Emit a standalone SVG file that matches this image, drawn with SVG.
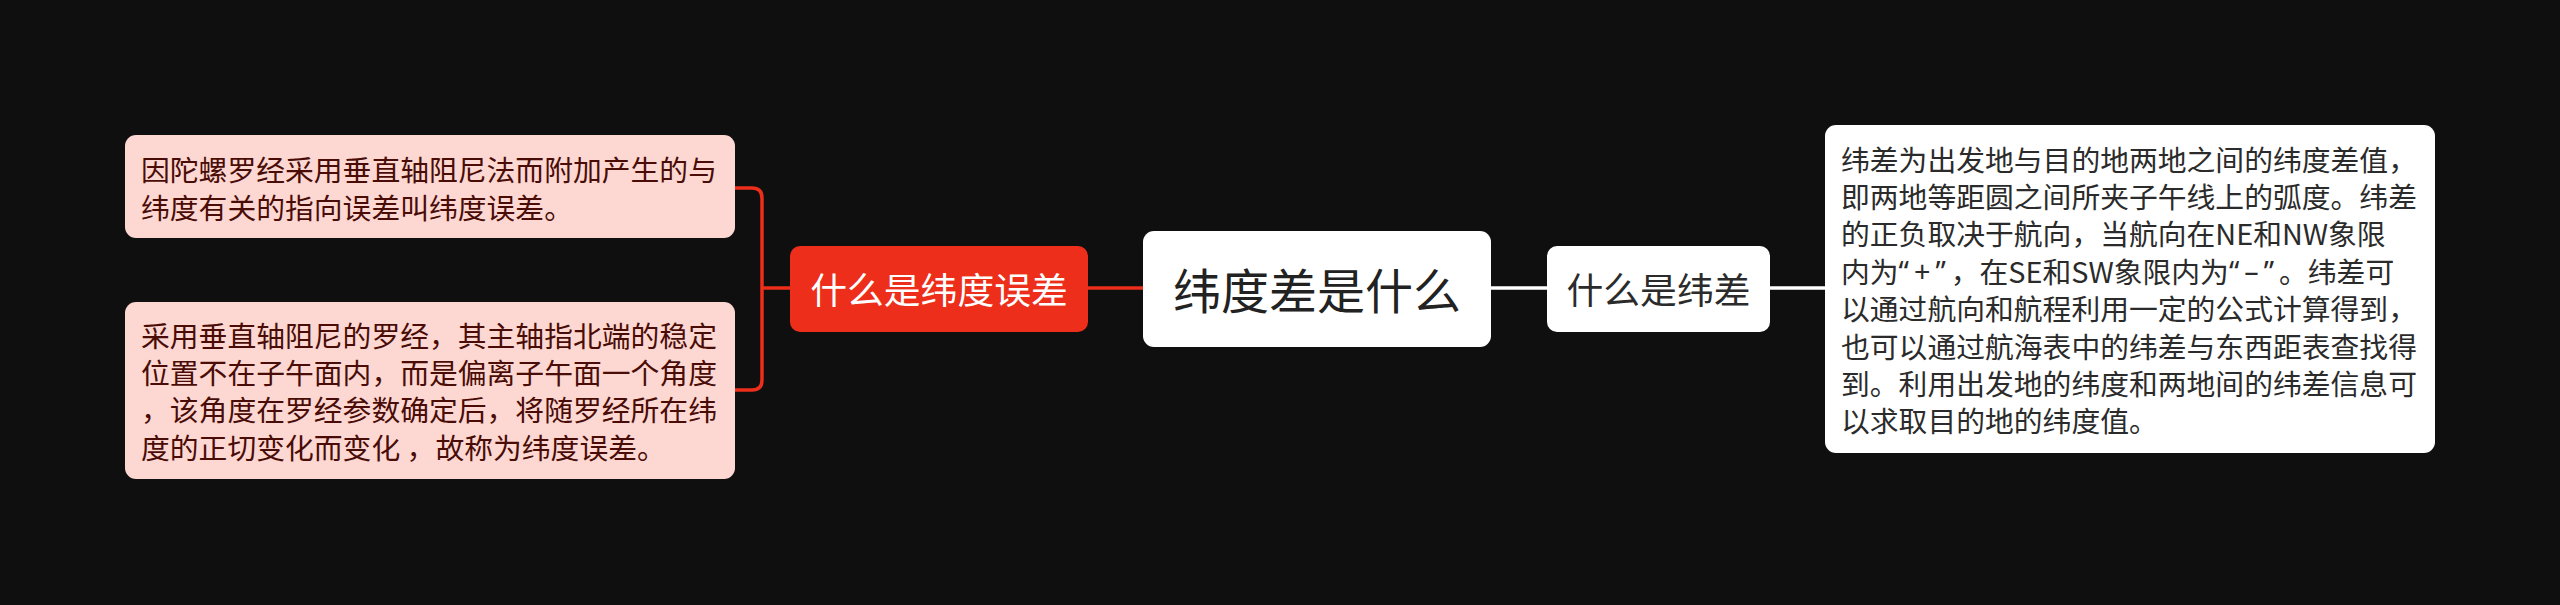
<svg xmlns="http://www.w3.org/2000/svg" width="2560" height="605" viewBox="0 0 2560 605">
<style>
.t{font-family:"Noto Sans CJK SC","Noto Sans",sans-serif;dominant-baseline:central}
.q{font-family:"Noto Sans",sans-serif;letter-spacing:5px}
.leaf{fill:#fdd8d3}
.leaft{font-size:28.8px;fill:#4a0c06}
.rt{font-size:28.8px;fill:#2b2b2b}
.redc{fill:none;stroke:#ec2e1b;stroke-width:3.5}
.whc{fill:none;stroke:#ffffff;stroke-width:3.5}
</style>
<rect width="2560" height="605" fill="#0f0f0f"/>
<g id="connectors">
<path class="redc" d="M735,188 H752 Q762,188 762,198 V380 Q762,390 752,390 H735 M762,288 H790"/>
<path class="redc" d="M1088,288 H1143"/>
<path class="whc" d="M1491,288 H1547"/>
<path class="whc" d="M1770,288 H1825"/>
</g>
<g id="root">
<rect x="1143" y="231" width="348" height="116" rx="11" fill="#ffffff"/>
<text class="t" x="1317" y="288" font-size="48" fill="#222222" text-anchor="middle">纬度差是什么</text>
</g>
<g id="n-latdiff-error">
<rect x="790" y="246" width="298" height="86" rx="10" fill="#ec2e1b"/>
<text class="t" x="939" y="288" font-size="36.8" fill="#ffffff" text-anchor="middle">什么是纬度误差</text>
</g>
<g id="n-latdiff">
<rect x="1547" y="246" width="223" height="86" rx="10" fill="#ffffff"/>
<text class="t" x="1658.5" y="288" font-size="36.8" fill="#2b2b2b" text-anchor="middle">什么是纬差</text>
</g>
<g id="leaf-1">
<rect class="leaf" x="125" y="135" width="610" height="103" rx="11"/>
<text class="t leaft" x="141" y="168.5">因陀螺罗经采用垂直轴阻尼法而附加产生的与</text>
<text class="t leaft" x="141" y="206">纬度有关的指向误差叫纬度误差。</text>
</g>
<g id="leaf-2">
<rect class="leaf" x="125" y="302" width="610" height="177" rx="11"/>
<text class="t leaft" x="141" y="334">采用垂直轴阻尼的罗经，其主轴指北端的稳定</text>
<text class="t leaft" x="141" y="371.4">位置不在子午面内，而是偏离子午面一个角度</text>
<text class="t leaft" x="141" y="408.8">，该角度在罗经参数确定后，将随罗经所在纬</text>
<text class="t leaft" x="141" y="446.2">度的正切变化而变化 ，故称为纬度误差。</text>
</g>
<g id="leaf-3">
<rect x="1825" y="125" width="610" height="328" rx="11" fill="#ffffff"/>
<text class="t rt" x="1841" y="158">纬差为出发地与目的地两地之间的纬度差值，</text>
<text class="t rt" x="1841" y="195.4">即两地等距圆之间所夹子午线上的弧度。纬差</text>
<text class="t rt" x="1841" y="232.8">的正负取决于航向，当航向在NE和NW象限</text>
<text class="t rt" x="1841" y="270.2">内为<tspan class="q">“+”</tspan>，在SE和SW象限内为<tspan class="q">“–”</tspan>。纬差可</text>
<text class="t rt" x="1841" y="307.6">以通过航向和航程利用一定的公式计算得到，</text>
<text class="t rt" x="1841" y="345">也可以通过航海表中的纬差与东西距表查找得</text>
<text class="t rt" x="1841" y="382.4">到。利用出发地的纬度和两地间的纬差信息可</text>
<text class="t rt" x="1841" y="419.8">以求取目的地的纬度值。</text>
</g>
</svg>
